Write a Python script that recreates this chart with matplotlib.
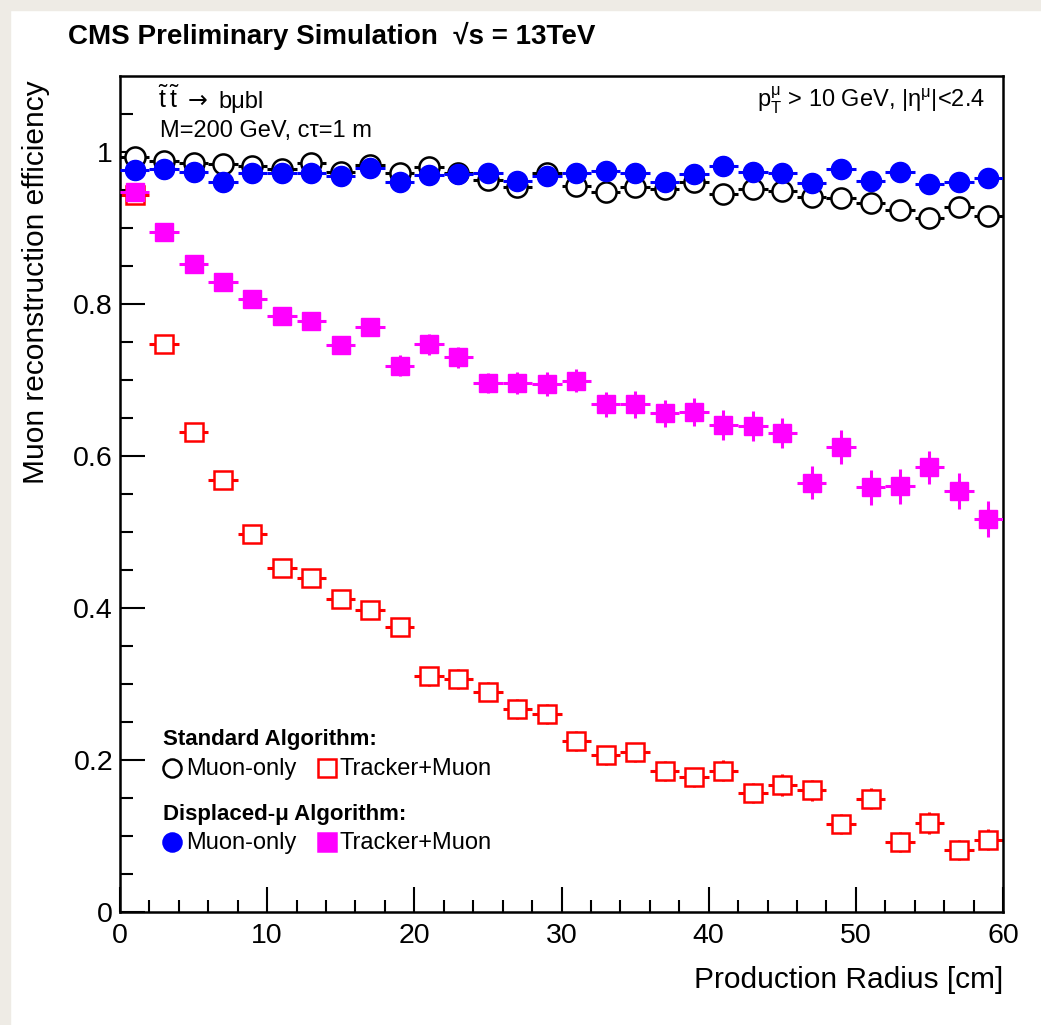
import numpy as np
import matplotlib
matplotlib.use("Agg")
import matplotlib.pyplot as plt
from matplotlib.lines import Line2D
from matplotlib.patches import Rectangle

plt.rcParams['font.family'] = ['Liberation Sans', 'DejaVu Sans']
plt.rcParams['mathtext.fontset'] = 'custom'
plt.rcParams['mathtext.rm'] = 'Liberation Sans'
plt.rcParams['mathtext.default'] = 'regular'

# Production radius bin centres (cm), bin half width 1 cm
radius = np.arange(1, 60, 2)
half_bin = 1.0

# Standard algorithm, muon-only (open black circles)
std_muon = [0.994, 0.988, 0.986, 0.984, 0.981, 0.977, 0.985, 0.974, 0.983, 0.973,
            0.980, 0.972, 0.963, 0.954, 0.972, 0.955, 0.947, 0.954, 0.951, 0.961,
            0.945, 0.951, 0.949, 0.941, 0.939, 0.933, 0.924, 0.913, 0.928, 0.916]
std_muon_err = [0.002] * 10 + [0.003] * 10 + [0.004] * 10

# Standard algorithm, tracker+muon (open red squares)
std_trk = [0.943, 0.747, 0.631, 0.569, 0.498, 0.452, 0.440, 0.412, 0.397, 0.375,
           0.310, 0.307, 0.290, 0.267, 0.261, 0.225, 0.206, 0.210, 0.186, 0.177,
           0.186, 0.157, 0.167, 0.160, 0.116, 0.149, 0.092, 0.117, 0.082, 0.095]
std_trk_err = [0.005, 0.008, 0.009, 0.010, 0.010, 0.011, 0.011, 0.012, 0.012, 0.012,
               0.013, 0.013, 0.013, 0.013, 0.013, 0.013, 0.013, 0.013, 0.013, 0.013,
               0.014, 0.013, 0.014, 0.014, 0.013, 0.014, 0.013, 0.014, 0.013, 0.014]

# Displaced-mu algorithm, muon-only (filled blue circles)
dsa_muon = [0.976, 0.977, 0.974, 0.961, 0.973, 0.972, 0.972, 0.968, 0.979, 0.961,
            0.970, 0.971, 0.972, 0.962, 0.968, 0.972, 0.975, 0.972, 0.960, 0.971,
            0.981, 0.974, 0.972, 0.959, 0.978, 0.962, 0.974, 0.958, 0.961, 0.966]
dsa_muon_err = [0.002] * 10 + [0.003] * 10 + [0.004] * 10

# Displaced-mu algorithm, tracker+muon (filled magenta squares)
dsa_trk = [0.947, 0.895, 0.852, 0.829, 0.807, 0.784, 0.777, 0.746, 0.770, 0.719,
           0.747, 0.730, 0.696, 0.696, 0.695, 0.699, 0.668, 0.668, 0.656, 0.658,
           0.641, 0.639, 0.630, 0.565, 0.612, 0.559, 0.560, 0.585, 0.554, 0.517]
dsa_trk_err = [0.004, 0.007, 0.008, 0.009, 0.010, 0.011, 0.011, 0.012, 0.012, 0.0138,
               0.0136, 0.014, 0.013, 0.0145, 0.0154, 0.0154, 0.0164, 0.0175, 0.0175, 0.0186,
               0.0197, 0.0197, 0.020, 0.0215, 0.022, 0.023, 0.023, 0.022, 0.024, 0.024]

W, H = 1041, 1025
fig = plt.figure(figsize=(W / 100, H / 100), dpi=100)
fig.patch.set_facecolor('white')

def px(x, y):
    return x / W, 1 - y / H

# grey page border at left and top
bg = '#eeebe5'
fig.add_artist(Rectangle((0, 0), 10 / W, 1, transform=fig.transFigure, color=bg, zorder=-10))
fig.add_artist(Rectangle((0, 1 - 10 / H), 1, 10 / H, transform=fig.transFigure, color=bg, zorder=-10))

ax = fig.add_axes([120 / W, 1 - 912 / H, (1003 - 120) / W, (912 - 76) / H])

ms = 14.5
ew = 2.2
ax.errorbar(radius, std_trk, xerr=half_bin, yerr=std_trk_err, fmt='s', ms=13.5,
            mfc='white', mec='red', mew=1.8, ecolor='red', elinewidth=ew, capsize=0, zorder=2)
ax.errorbar(radius, dsa_trk, xerr=half_bin, yerr=dsa_trk_err, fmt='s', ms=13.5,
            mfc='magenta', mec='magenta', ecolor='magenta', elinewidth=ew, capsize=0, zorder=3)
ax.errorbar(radius, std_muon, xerr=half_bin, yerr=std_muon_err, fmt='o', ms=ms,
            mfc='white', mec='black', mew=1.8, ecolor='black', elinewidth=ew, capsize=0, zorder=4)
ax.errorbar(radius, dsa_muon, xerr=half_bin, yerr=dsa_muon_err, fmt='o', ms=ms,
            mfc='blue', mec='blue', ecolor='blue', elinewidth=ew, capsize=0, zorder=5)

ax.set_xlim(0, 60)
ax.set_ylim(0, 1.1)
ax.set_xticks([0, 10, 20, 30, 40, 50, 60])
ax.set_xticks(np.arange(0, 61, 2), minor=True)
ax.set_yticks([0, 0.2, 0.4, 0.6, 0.8, 1.0])
ax.set_yticklabels(['0', '0.2', '0.4', '0.6', '0.8', '1'])
ax.set_yticks(np.arange(0, 1.1, 0.05), minor=True)
ax.tick_params(which='both', direction='in', width=1.5, labelsize=20.5, top=False, right=False)
ax.tick_params(which='major', length=18)
ax.tick_params(which='minor', length=9)
ax.tick_params(axis='x', pad=8)
ax.tick_params(axis='y', pad=5)
for s in ax.spines.values():
    s.set_linewidth(1.8)

ax.set_xlabel('Production Radius [cm]', fontsize=21.5, loc='right')
ax.xaxis.set_label_coords(1.0, -0.064)
ax.set_ylabel('Muon reconstruction efficiency', fontsize=21.5, loc='top')
ax.yaxis.set_label_coords(-0.079, 0.995)

# titles and annotations
fig.text(*px(68, 44), 'CMS Preliminary Simulation  \u221as = 13TeV', fontsize=20,
         fontweight='bold', va='baseline')
fig.text(*px(158, 108), r'$\tilde{t}\,\tilde{t}$', fontsize=18, va='baseline')
fig.text(*px(188, 108), '\u2192', fontsize=17, va='baseline', family=['DejaVu Sans'])
fig.text(*px(218, 108), 'b\u03bcbl', fontsize=17, va='baseline')
fig.text(*px(160, 137), 'M=200 GeV, c\u03c4=1 m', fontsize=17, va='baseline')
fig.text(*px(985, 107), r'$p_{T}^{\mu}$ > 10 GeV, |$\eta^{\mu}$|<2.4', fontsize=17,
         va='baseline', ha='right')

# legend
fig.text(*px(163, 745), 'Standard Algorithm:', fontsize=16, fontweight='bold', va='baseline')
fig.text(*px(163, 820), 'Displaced-\u03bc Algorithm:', fontsize=16, fontweight='bold', va='baseline')
rows = [(768, 775, 'black', 'white', 'red', 'white'),
        (842, 849, 'blue', 'blue', 'magenta', 'magenta')]
for ym, yt, c_ec, c_fc, s_ec, s_fc in rows:
    x0, y0 = px(172, ym)
    fig.add_artist(Line2D([x0], [y0], marker='o', ms=13, mec=c_ec, mfc=c_fc, mew=1.8,
                          transform=fig.transFigure))
    x1, y1 = px(327, ym)
    fig.add_artist(Line2D([x1], [y1], marker='s', ms=13.5, mec=s_ec, mfc=s_fc, mew=1.8,
                          transform=fig.transFigure))
    fig.text(*px(186, yt), 'Muon-only', fontsize=17, va='baseline')
    fig.text(*px(340, yt), 'Tracker+Muon', fontsize=17, va='baseline')

fig.savefig('out.png', dpi=100)
